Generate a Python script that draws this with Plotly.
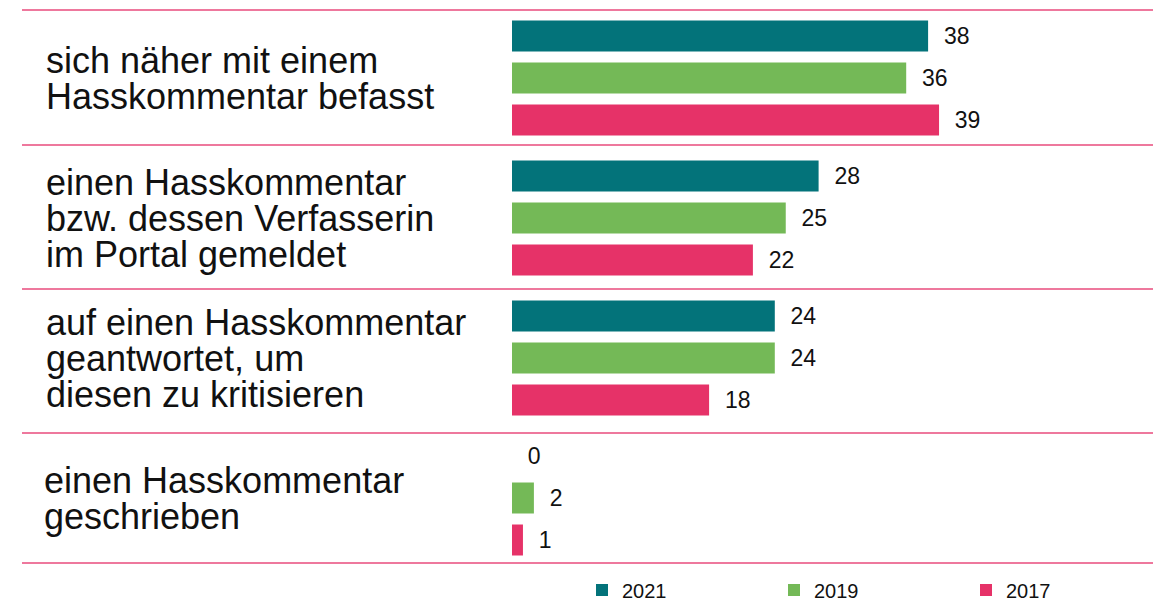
import plotly.graph_objects as go

# ---- data ----
categories = [
    "sich näher mit einem<br>Hasskommentar befasst",
    "einen Hasskommentar<br>bzw. dessen Verfasserin<br>im Portal gemeldet",
    "auf einen Hasskommentar<br>geantwortet, um<br>diesen zu kritisieren",
    "einen Hasskommentar<br>geschrieben",
]
series_names = ["2021", "2019", "2017"]
values_2021 = [38, 28, 24, 0]
values_2019 = [36, 25, 24, 2]
values_2017 = [39, 22, 18, 1]
series_values = [values_2021, values_2019, values_2017]
colors = ["#03737A", "#74B957", "#E63268"]

# separator positions (in category units)
separators = [-0.486, 0.479, 1.507, 2.536, 3.464]

# page body has an 8px margin: figure sized so it ends at the window edge
OFF = 8
W, H = 1161 - OFF, 600 - OFF
FONT = "Liberation Sans, Arial, Helvetica, sans-serif"

fig = go.Figure()
for name, vals, col in zip(series_names, series_values, colors):
    fig.add_trace(go.Bar(
        name=name,
        y=categories,
        x=vals,
        orientation="h",
        marker=dict(color=col, line=dict(width=0)),
        texttemplate="\u00a0\u00a0%{x}",
        textposition="outside",
        textfont=dict(family=FONT, size=23, color="#111111"),
        constraintext="none",
        cliponaxis=False,
        hoverinfo="skip",
    ))

# category labels: one annotation per line
annotations = []
pitch = 36
for i, cat in enumerate(categories):
    lines = cat.split("<br>")
    n = len(lines)
    xl = (42 if i == 3 else 44) - OFF
    for j, line in enumerate(lines):
        annotations.append(dict(
            x=xl / W, xref="paper", xanchor="left",
            y=cat, yref="y", yanchor="middle",
            yshift=-(j - (n - 1) / 2) * pitch,
            text=line, showarrow=False, align="left",
            font=dict(family=FONT, size=36, color="#111111"),
        ))

shapes = [
    dict(type="line", xref="paper", x0=(22 - OFF) / W, x1=1, yref="y", y0=s, y1=s,
         line=dict(color="#E94B7C", width=1.6))
    for s in separators
]

px_per_unit = 10.95
x0_px = 512 - OFF
y0_px, cat_px = 78 - OFF, 140

fig.update_layout(
    width=W, height=H,
    margin=dict(l=0, r=0, t=0, b=0, autoexpand=False),
    paper_bgcolor="white", plot_bgcolor="white",
    barmode="group", bargap=0.1, bargroupgap=0.262,
    showlegend=True,
    legend=dict(
        orientation="h", x=574 / W, xanchor="left", y=1 - 582 / H, yanchor="middle",
        font=dict(family=FONT, size=20, color="#111111"),
        entrywidth=147, entrywidthmode="pixels", traceorder="normal",
        bgcolor="rgba(0,0,0,0)",
    ),
    xaxis=dict(visible=False, range=[-x0_px / px_per_unit, (W - x0_px) / px_per_unit]),
    yaxis=dict(visible=False, type="category",
               range=[(H - y0_px) / cat_px, -y0_px / cat_px]),
    annotations=annotations,
    shapes=shapes,
    font=dict(family=FONT),
)

fig.write_html("out.html")
